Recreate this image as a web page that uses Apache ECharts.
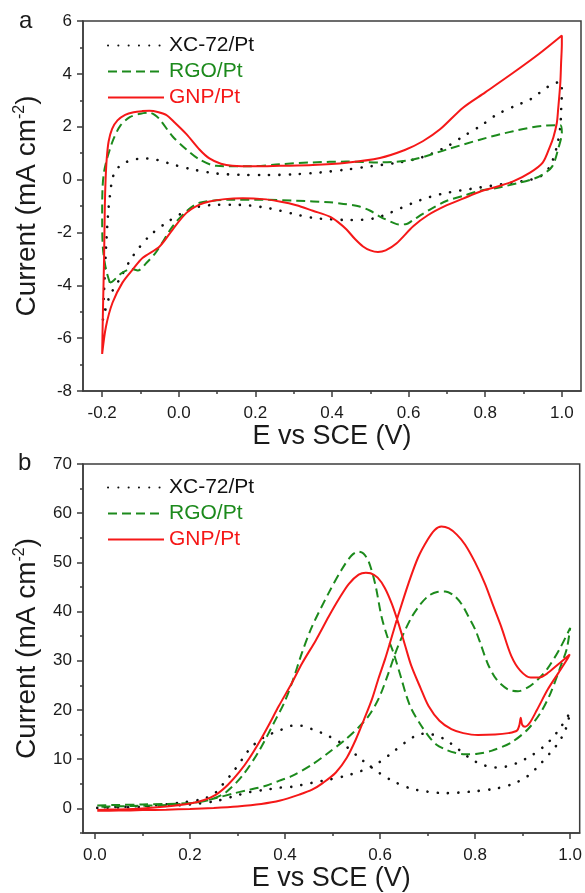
<!DOCTYPE html>
<html>
<head>
<meta charset="utf-8">
<script src="https://cdn.jsdelivr.net/npm/echarts@6/dist/echarts.min.js"></script>
<style>
  html, body { margin: 0; padding: 0; background: #fff; }
  #chart { width: 585px; height: 893px; }
</style>
</head>
<body>
<div id="chart"></div>
<script>
// Series names (legend entries)
const seriesNames = ['XC-72/Pt', 'RGO/Pt', 'GNP/Pt'];

// Axis tick values
const aXMajor = [-0.2, 0.0, 0.2, 0.4, 0.6, 0.8, 1.0];
const aXMinor = [-0.1, 0.1, 0.3, 0.5, 0.7, 0.9];
const bXMajor = [0.0, 0.2, 0.4, 0.6, 0.8, 1.0];
const bXMinor = [0.1, 0.3, 0.5, 0.7, 0.9];
const bYMajor = [0, 10, 20, 30, 40, 50, 60, 70];
const bYMinor = [-5, 5, 15, 25, 35, 45, 55, 65];

// Panel a: cyclic voltammograms [E (V), j (mA cm-2)], anodic sweep then cathodic sweep
const cvXC72 = [
  [-0.198,-5.30],[-0.195,-4.20],[-0.190,-2.60],[-0.184,-1.20],[-0.180,-0.64],[-0.175,-0.10],
  [-0.168,0.26],[-0.155,0.50],[-0.137,0.66],[-0.120,0.75],[-0.102,0.79],[-0.085,0.80],
  [-0.068,0.78],[-0.040,0.68],[-0.016,0.57],[0.037,0.38],[0.098,0.23],[0.160,0.18],
  [0.229,0.17],[0.300,0.20],[0.370,0.27],[0.438,0.38],[0.500,0.50],[0.568,0.63],
  [0.620,0.78],[0.655,0.95],[0.700,1.25],[0.742,1.63],[0.790,2.05],[0.830,2.46],
  [0.880,2.80],[0.917,3.03],[0.969,3.56],[0.996,3.70],
  [1.000,3.30],[0.998,2.60],[0.996,2.00],[0.987,1.25],[0.969,0.50],[0.943,0.11],
  [0.910,-0.03],[0.873,-0.11],[0.786,-0.30],[0.700,-0.50],[0.655,-0.66],[0.612,-0.88],
  [0.551,-1.26],[0.516,-1.45],[0.478,-1.52],[0.438,-1.53],[0.394,-1.50],[0.350,-1.45],
  [0.300,-1.30],[0.260,-1.16],[0.229,-1.07],[0.185,-0.98],[0.141,-0.95],[0.090,-0.96],
  [0.054,-1.02],[0.010,-1.26],[-0.032,-1.63],[-0.077,-2.14],[-0.120,-2.90],[-0.155,-3.78],
  [-0.180,-4.40],[-0.192,-4.95],[-0.198,-5.30]
];
const cvRGO = [
  [-0.180,-3.90],[-0.190,-3.40],[-0.198,-2.60],[-0.200,-1.50],[-0.199,-0.30],[-0.195,0.30],
  [-0.189,0.70],[-0.182,1.05],[-0.170,1.55],[-0.152,2.05],[-0.128,2.36],[-0.100,2.49],
  [-0.077,2.53],[-0.062,2.44],[-0.048,2.25],[-0.016,1.63],[0.020,1.14],[0.054,0.76],
  [0.098,0.52],[0.185,0.50],[0.263,0.58],[0.350,0.65],[0.438,0.68],[0.525,0.65],
  [0.612,0.76],[0.700,1.14],[0.786,1.51],[0.873,1.83],[0.960,2.05],[0.996,2.06],
  [1.000,1.78],[0.990,1.14],[0.975,0.50],[0.950,0.19],[0.920,0.00],[0.830,-0.32],
  [0.786,-0.42],[0.742,-0.62],[0.700,-0.80],[0.660,-1.10],[0.637,-1.30],[0.610,-1.55],
  [0.595,-1.68],[0.575,-1.70],[0.559,-1.63],[0.525,-1.40],[0.500,-1.18],[0.472,-1.02],
  [0.430,-0.92],[0.394,-0.86],[0.307,-0.80],[0.220,-0.76],[0.141,-0.76],[0.054,-0.88],
  [0.020,-1.20],[-0.016,-1.77],[-0.058,-2.72],[-0.084,-3.15],[-0.107,-3.44],[-0.122,-3.38],
  [-0.150,-3.55],[-0.173,-3.86],[-0.180,-3.90]
];
const cvGNP = [
  [-0.200,-6.60],[-0.198,-5.00],[-0.195,-3.00],[-0.193,-1.00],[-0.191,0.00],[-0.188,0.80],
  [-0.183,1.45],[-0.174,1.92],[-0.160,2.24],[-0.140,2.45],[-0.118,2.55],[-0.095,2.59],
  [-0.077,2.60],[-0.055,2.56],[-0.033,2.45],[-0.010,2.15],[0.020,1.72],[0.054,1.14],
  [0.080,0.80],[0.110,0.60],[0.140,0.52],[0.200,0.50],[0.264,0.52],[0.350,0.55],
  [0.438,0.64],[0.525,0.82],[0.590,1.12],[0.637,1.45],[0.682,1.90],[0.742,2.72],
  [0.800,3.30],[0.873,4.04],[0.940,4.75],[1.000,5.45],
  [1.000,5.15],[0.998,4.40],[0.996,3.66],[0.990,2.60],[0.987,2.15],[0.978,1.60],
  [0.969,1.25],[0.950,0.64],[0.917,0.26],[0.873,-0.07],[0.830,-0.27],[0.786,-0.46],
  [0.742,-0.72],[0.700,-0.97],[0.650,-1.35],[0.612,-1.77],[0.568,-2.42],[0.540,-2.68],
  [0.520,-2.74],[0.500,-2.68],[0.481,-2.53],[0.460,-2.25],[0.438,-1.89],[0.415,-1.60],
  [0.394,-1.40],[0.350,-1.18],[0.307,-0.97],[0.263,-0.83],[0.220,-0.74],[0.167,-0.71],
  [0.120,-0.74],[0.080,-0.83],[0.054,-0.95],[0.020,-1.26],[-0.016,-1.89],[-0.050,-2.53],
  [-0.094,-2.96],[-0.120,-3.40],[-0.147,-3.90],[-0.173,-4.66],[-0.190,-5.56],[-0.200,-6.60]
];

// Panel b: methanol oxidation, forward and backward sweeps [E (V), j (mA cm-2)]
const moXC72Fwd = [
  [0.005,0.1],[0.05,0.2],[0.10,0.3],[0.15,0.5],[0.20,0.8],[0.255,1.5],[0.29,2.4],
  [0.325,3.3],[0.36,3.8],[0.387,4.2],[0.415,4.4],[0.457,5.2],[0.49,5.8],[0.527,6.6],
  [0.56,7.6],[0.597,9.3],[0.625,11.3],[0.653,13.4],[0.68,15.0],[0.70,15.2],[0.72,14.7],
  [0.737,14.0],[0.765,12.0],[0.792,10.0],[0.815,8.9],[0.842,8.3],[0.865,8.5],[0.89,9.3],
  [0.918,10.7],[0.946,12.7],[0.965,14.6],[0.98,16.5],[1.0,19.5]
];
const moXC72Bwd = [
  [0.995,17.5],[0.988,15.5],[0.975,13.3],[0.959,11.4],[0.935,8.8],[0.911,6.6],[0.88,5.0],
  [0.842,4.0],[0.79,3.4],[0.737,3.1],[0.70,3.4],[0.666,4.0],[0.63,5.4],[0.597,7.3],
  [0.56,10.0],[0.527,12.7],[0.49,14.8],[0.457,16.1],[0.435,16.8],[0.415,16.8],[0.39,15.9],
  [0.36,14.7],[0.34,13.4],[0.325,12.0],[0.31,10.0],[0.29,7.3],[0.27,5.0],[0.255,3.3],
  [0.23,2.0],[0.184,1.2],[0.12,0.6],[0.05,0.3],[0.005,0.2]
];
const moRGOFwd = [
  [0.005,0.6],[0.05,0.7],[0.10,0.8],[0.15,0.9],[0.20,1.1],[0.22,1.3],[0.255,2.1],[0.29,3.0],
  [0.325,3.8],[0.36,4.6],[0.387,5.6],[0.415,6.6],[0.457,8.9],[0.49,11.2],[0.527,14.0],
  [0.555,16.5],[0.576,18.8],[0.598,22.5],[0.618,27.6],[0.632,31.5],[0.645,34.6],[0.666,38.8],
  [0.685,41.5],[0.702,43.2],[0.72,44.0],[0.737,44.1],[0.755,43.3],[0.771,41.6],[0.786,39.0],
  [0.80,36.4],[0.812,33.3],[0.827,29.3],[0.845,26.2],[0.869,24.2],[0.89,23.8],[0.911,24.6],
  [0.932,26.2],[0.953,28.5],[0.98,32.8],[1.0,36.7]
];
const moRGOBwd = [
  [0.993,32.5],[0.98,28.9],[0.959,23.5],[0.938,19.5],[0.911,16.1],[0.876,13.4],[0.834,11.7],
  [0.805,11.1],[0.779,11.0],[0.758,11.3],[0.737,12.0],[0.718,13.0],[0.702,14.7],[0.684,17.2],
  [0.666,20.2],[0.655,23.0],[0.645,26.3],[0.628,31.7],[0.615,35.0],[0.603,39.0],[0.59,45.5],
  [0.576,50.2],[0.565,51.8],[0.555,52.2],[0.54,51.4],[0.519,48.5],[0.492,43.8],[0.457,37.0],
  [0.436,31.7],[0.415,25.6],[0.398,21.4],[0.381,18.2],[0.346,11.8],[0.31,6.6],[0.276,3.3],
  [0.25,2.0],[0.22,1.3],[0.15,0.7],[0.08,0.5],[0.005,0.3]
];
const moGNPFwd = [
  [0.005,-0.5],[0.05,-0.45],[0.10,-0.35],[0.15,-0.25],[0.20,-0.1],[0.25,0.1],[0.30,0.4],
  [0.35,0.9],[0.39,1.6],[0.43,2.8],[0.457,3.8],[0.48,5.2],[0.507,7.3],[0.53,10.3],[0.549,14.0],
  [0.566,18.0],[0.583,22.2],[0.597,26.5],[0.611,30.5],[0.625,35.0],[0.639,39.5],[0.66,45.8],
  [0.68,51.0],[0.70,54.6],[0.715,56.6],[0.729,57.3],[0.745,56.9],[0.762,55.6],[0.779,53.6],
  [0.80,50.0],[0.821,45.6],[0.838,41.2],[0.855,36.9],[0.876,31.0],[0.895,28.0],[0.917,26.6],
  [0.935,26.6],[0.95,27.3],[0.975,29.3],[0.999,31.3]
];
const moGNPBwd = [
  [0.995,30.5],[0.975,27.5],[0.953,24.2],[0.93,20.0],[0.915,17.4],[0.905,16.6],[0.899,17.0],
  [0.896,18.4],[0.893,16.9],[0.888,15.8],[0.87,15.3],[0.842,15.0],[0.806,14.9],[0.775,15.3],
  [0.75,16.1],[0.725,17.8],[0.702,20.8],[0.685,24.5],[0.666,28.9],[0.653,33.0],[0.64,37.2],
  [0.625,41.5],[0.61,44.8],[0.595,46.9],[0.58,47.8],[0.57,47.9],[0.555,47.5],[0.534,45.6],
  [0.513,42.5],[0.492,39.0],[0.465,34.2],[0.436,29.5],[0.415,25.6],[0.387,20.8],[0.365,16.8],
  [0.346,13.5],[0.325,10.2],[0.304,7.4],[0.28,4.8],[0.255,2.8],[0.23,1.7],[0.20,1.0],
  [0.15,0.4],[0.10,0.0],[0.05,-0.2],[0.005,-0.3]
];

const FONT = '"Liberation Sans", Arial, Helvetica, sans-serif';
const AXIS = '#3c3c3c';
const TXT = '#1a1a1a';
const colors = { 'XC-72/Pt': '#111111', 'RGO/Pt': '#1c8a1c', 'GNP/Pt': '#f51818' };
const lineStyles = {
  'XC-72/Pt': { color: colors['XC-72/Pt'], width: 2.6, type: [0.1, 10.2], cap: 'round' },
  'RGO/Pt': { color: colors['RGO/Pt'], width: 2, type: [9, 5] },
  'GNP/Pt': { color: colors['GNP/Pt'], width: 2 }
};

const tickLabel = { fontSize: 17, color: TXT, fontFamily: FONT };
const titleStyle = { fontSize: 27, color: TXT, fontFamily: FONT };
const yName = '{t|Current (mA cm}{s|-2}{t|)}';
const yNameStyle = {
  color: TXT, fontFamily: FONT,
  rich: {
    t: { fontSize: 28, lineHeight: 31, color: TXT, fontFamily: FONT },
    s: { fontSize: 16, lineHeight: 16, verticalAlign: 'top', color: TXT, fontFamily: FONT }
  }
};

function majorX(grid, min, max, ticks) {
  return {
    gridIndex: grid, type: 'value', min: min, max: max, position: 'bottom',
    axisLine: { show: true, onZero: false, lineStyle: { color: AXIS, width: 1.5 } },
    axisTick: { show: true, inside: false, length: 6, customValues: ticks, lineStyle: { color: AXIS, width: 1.5 } },
    axisLabel: Object.assign({ customValues: ticks, margin: 14, formatter: v => v.toFixed(1) }, tickLabel),
    splitLine: { show: false },
    name: 'E vs SCE (V)', nameLocation: 'middle', nameGap: 32, nameTextStyle: titleStyle
  };
}
function minorX(grid, min, max, ticks) {
  return {
    gridIndex: grid, type: 'value', min: min, max: max, position: 'bottom',
    axisLine: { show: false, onZero: false },
    axisTick: { show: true, inside: false, length: 3, customValues: ticks, lineStyle: { color: AXIS, width: 1.5 } },
    axisLabel: { show: false }, splitLine: { show: false }
  };
}

function curve(name, data, xi, yi) {
  return {
    name: name, type: 'line', xAxisIndex: xi, yAxisIndex: yi, data: data,
    symbol: 'none', smooth: 0.3, clip: true, lineStyle: lineStyles[name],
    itemStyle: { color: colors[name] }, z: 3
  };
}

function legendAt(top) {
  return {
    left: 107, top: top, orient: 'vertical', padding: 0,
    itemWidth: 56, itemHeight: 14, itemGap: 5, selectedMode: false,
    itemStyle: { opacity: 0, borderWidth: 0 },
    textStyle: { fontSize: 21, lineHeight: 21, fontFamily: FONT },
    data: seriesNames.map(n => ({ name: n, textStyle: { color: colors[n] } }))
  };
}

const chart = echarts.init(document.getElementById('chart'), null, { renderer: 'canvas' });
chart.setOption({
  animation: false,
  backgroundColor: '#ffffff',
  grid: [
    { left: 83, top: 21, width: 498, height: 370, show: true, borderColor: AXIS, borderWidth: 1.5 },
    { left: 83, top: 464, width: 499, height: 369, show: true, borderColor: AXIS, borderWidth: 1.5 }
  ],
  xAxis: [
    majorX(0, -0.25, 1.05, aXMajor),
    minorX(0, -0.25, 1.05, aXMinor),
    majorX(1, -0.025, 1.02, bXMajor),
    minorX(1, -0.025, 1.02, bXMinor)
  ],
  yAxis: [
    {
      gridIndex: 0, type: 'value', min: -8, max: 6, interval: 2, position: 'left',
      axisLine: { show: true, onZero: false, lineStyle: { color: AXIS, width: 1.5 } },
      axisTick: { show: true, inside: false, length: 6, lineStyle: { color: AXIS, width: 1.5 } },
      minorTick: { show: true, splitNumber: 2, length: 3, lineStyle: { color: AXIS, width: 1.5 } },
      axisLabel: Object.assign({ margin: 11 }, tickLabel),
      splitLine: { show: false }, minorSplitLine: { show: false },
      name: yName, nameLocation: 'middle', nameRotate: 90, nameGap: 40, nameTextStyle: yNameStyle
    },
    {
      gridIndex: 1, type: 'value', min: -5, max: 70, position: 'left',
      axisLine: { show: true, onZero: false, lineStyle: { color: AXIS, width: 1.5 } },
      axisTick: { show: true, inside: false, length: 6, customValues: bYMajor, lineStyle: { color: AXIS, width: 1.5 } },
      axisLabel: Object.assign({ customValues: bYMajor, margin: 11 }, tickLabel),
      splitLine: { show: false },
      name: yName, nameLocation: 'middle', nameRotate: 90, nameGap: 40, nameTextStyle: yNameStyle
    },
    {
      gridIndex: 1, type: 'value', min: -5, max: 70, position: 'left',
      axisLine: { show: false, onZero: false },
      axisTick: { show: true, inside: false, length: 3, customValues: bYMinor, lineStyle: { color: AXIS, width: 1.5 } },
      axisLabel: { show: false }, splitLine: { show: false }
    }
  ],
  legend: [legendAt(35), legendAt(477)],
  graphic: [
    { type: 'text', left: 19, top: 9, style: { text: 'a', font: '24px ' + FONT, fill: TXT } },
    { type: 'text', left: 18, top: 451, style: { text: 'b', font: '24px ' + FONT, fill: TXT } }
  ],
  series: [
    curve('XC-72/Pt', cvXC72, 0, 0),
    curve('RGO/Pt', cvRGO, 0, 0),
    curve('GNP/Pt', cvGNP, 0, 0),
    curve('XC-72/Pt', moXC72Fwd.concat(moXC72Bwd), 2, 1),
    curve('RGO/Pt', moRGOFwd.concat(moRGOBwd), 2, 1),
    curve('GNP/Pt', moGNPFwd.concat(moGNPBwd), 2, 1)
  ]
});
</script>
</body>
</html>
